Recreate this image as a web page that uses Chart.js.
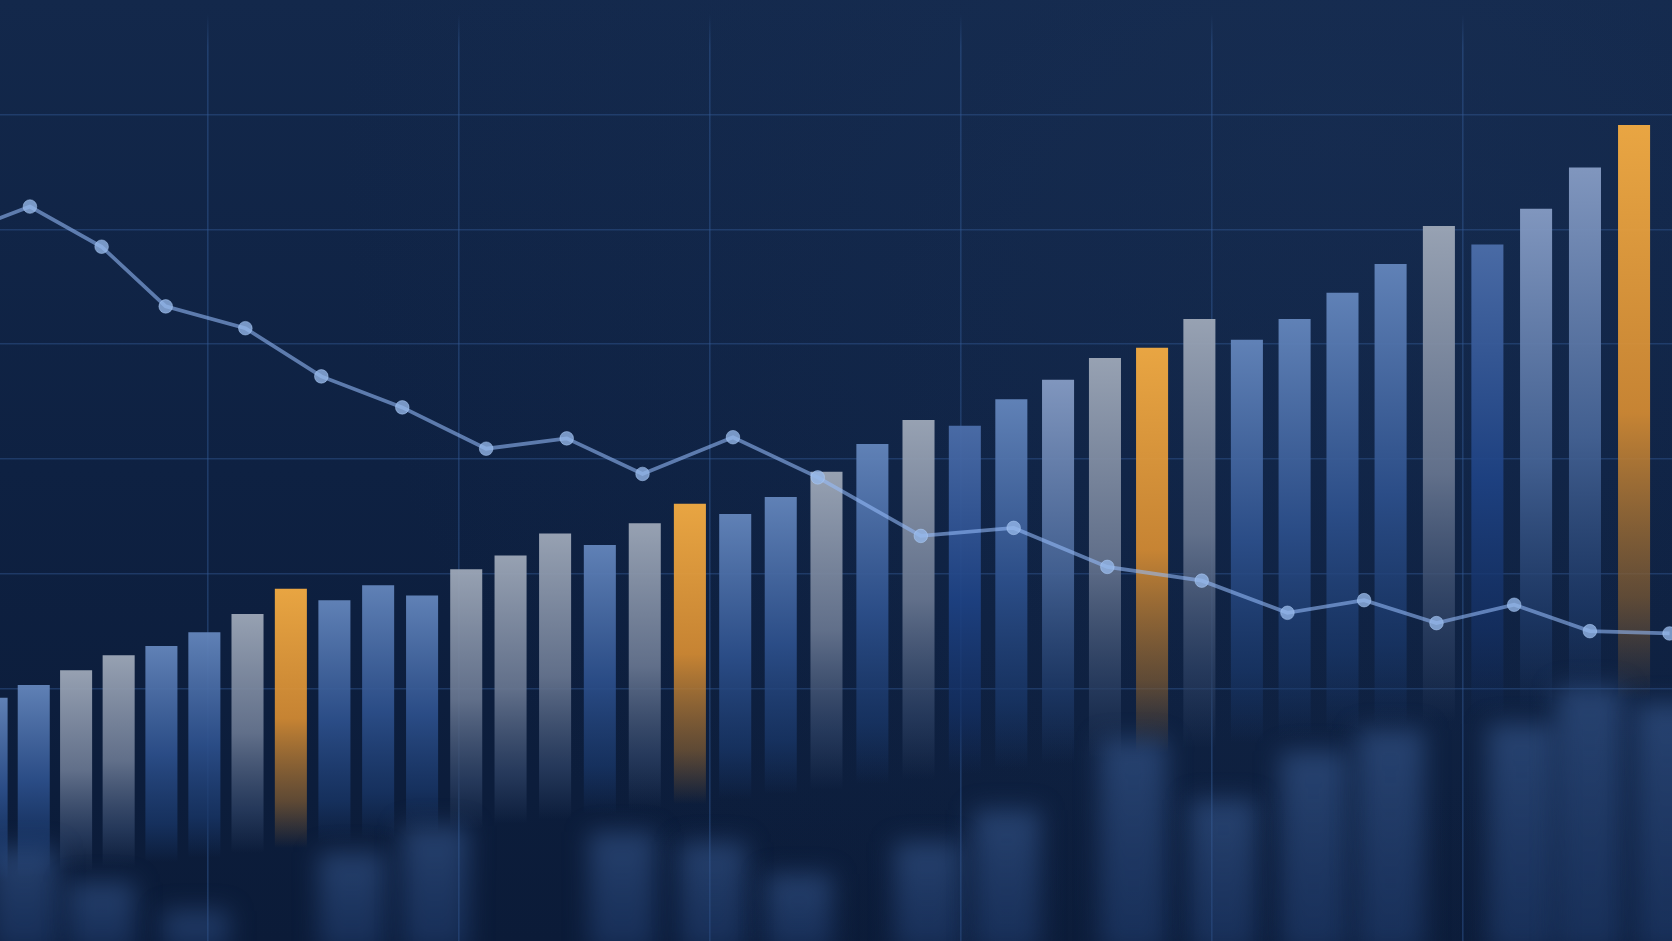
<!DOCTYPE html>
<html>
<head>
<meta charset="utf-8">
<style>
  html, body { margin: 0; padding: 0; background: #0e2142; overflow: hidden; }
  #wrap { position: relative; width: 1672px; height: 941px; }
</style>
<script src="https://cdn.jsdelivr.net/npm/chart.js@4.4.1/dist/chart.umd.min.js"></script>
</head>
<body>
<div id="wrap"><canvas id="c"></canvas></div>
<script>
// ---------- DATA ----------
// main bars: one per period, values in chart units
const barValues = [19.2, 20.3, 21.6, 22.9, 23.7, 24.9, 26.5, 28.7, 27.7, 29.0,
                   28.1, 30.4, 31.6, 33.5, 32.5, 34.4, 36.1, 35.2, 36.7, 38.9,
                   41.3, 43.4, 42.9, 45.2, 46.9, 48.8, 49.7, 52.2, 50.4, 52.2,
                   54.5, 57.0, 60.3, 58.7, 61.8, 65.4, 69.1];
// tone of each bar: b blue, g silver, s steel, d deep blue, o highlight (orange)
const barTone = ['b','b','g','g','b','b','g','o','b','b',
                 'b','g','g','g','b','g','o','b','b','g',
                 'b','g','d','b','s','g','o','g','b','b',
                 'b','b','g','d','s','s','o'];
// trend line: position measured in bar periods, value in chart units
const lineAt = [-1.09, 0.91, 2.60, 4.10, 5.95, 7.70, 9.55, 11.45, 13.26, 14.95, 16.95,
                18.81, 21.05, 23.05, 25.05, 27.05, 28.85, 30.45, 31.95, 33.55, 35.1, 36.72];
const lineValues = [59.2, 62.0, 58.5, 53.3, 51.4, 47.2, 44.5, 40.9, 41.8, 38.7, 41.9,
                    38.4, 33.3, 34.0, 30.6, 29.4, 26.6, 27.7, 25.7, 27.3, 25.0, 24.8];
// out-of-focus foreground bars
const fgAt = [0.78, 2.6, 4.8, 8.4, 10.3, 14.5, 16.5, 18.4, 21.2, 22.9, 25.6, 27.5, 29.4, 31.0, 33.7, 35.1, 36.7];
const fgValues = [6.1, 3.1, 0.6, 5.7, 8.0, 7.5, 6.6, 3.8, 6.6, 9.4, 15.5, 10.3, 14.5, 16.4, 16.9, 20.1, 18.7];
// grid ticks (no labels shown)
const yGridTicks = [20, 30, 40, 50, 60, 70];
const xGridTicks = [0, 1, 2, 3, 4, 5];

// ---------- custom perspective scale ----------
class PerspectiveScale extends Chart.LinearScale {
  getPixelForValue(value) {
    if (value === null || value === undefined) return NaN;
    const t = (value - this._startValue) / this._valueRange;
    const w = this.options.warp || 0;
    return this.getPixelForDecimal(t - w * t * (1 - t));
  }
  getValueForPixel(pixel) {
    const f = this.getDecimalForPixel(pixel);
    const w = this.options.warp || 0;
    const t = w ? (-(1 - w) + Math.sqrt((1 - w) * (1 - w) + 4 * w * f)) / (2 * w) : f;
    return this._startValue + t * this._valueRange;
  }
}
PerspectiveScale.id = 'perspective';
PerspectiveScale.defaults = Object.assign({}, Chart.LinearScale.defaults);
Chart.register(PerspectiveScale);

// ---------- styles ----------
const tones = {
  b: [[100,134,188],[45,80,140],[25,55,105]],
  g: [[158,168,184],[104,118,144],[45,65,100]],
  s: [[134,156,196],[70,100,150],[30,58,105]],
  d: [[76,110,170],[30,66,132],[20,48,100]],
  o: [[244,172,66],[214,140,50],[122,88,50]]
};
const rgba = (c, a) => `rgba(${c[0]},${c[1]},${c[2]},${a})`;

function barFill(ctx) {
  const chart = ctx.chart;
  const area = chart.chartArea;
  if (!area || ctx.type !== 'data') return 'rgba(0,0,0,0)';
  const xs = chart.scales.x, ys = chart.scales.y;
  const px = xs.getPixelForValue(ctx.parsed.x);
  const top = ys.getPixelForValue(ctx.parsed.y);
  const fade = 880 - 0.11 * px;
  const t = tones[barTone[ctx.dataIndex]];
  const g = chart.ctx.createLinearGradient(0, top, 0, fade);
  g.addColorStop(0, rgba(t[0], 0.95));
  g.addColorStop(0.5, rgba(t[1], 0.92));
  g.addColorStop(0.82, rgba(t[2], 0.75));
  g.addColorStop(1, rgba(t[2], 0));
  return g;
}
function fgFill(ctx) {
  const chart = ctx.chart;
  if (!chart.chartArea || ctx.type !== 'data') return 'rgba(0,0,0,0)';
  const ys = chart.scales.y;
  const top = ys.getPixelForValue(ctx.parsed.y);
  const g = chart.ctx.createLinearGradient(0, top, 0, 941);
  g.addColorStop(0, 'rgba(62,98,156,0.52)');
  g.addColorStop(1, 'rgba(40,72,128,0.45)');
  return g;
}
let vGridGrad = null;
function vGridColor(ctx) {
  const chart = ctx.chart;
  if (!vGridGrad) {
    vGridGrad = chart.ctx.createLinearGradient(0, 0, 0, 941);
    vGridGrad.addColorStop(0, 'rgba(50,90,150,0)');
    vGridGrad.addColorStop(0.015, 'rgba(50,90,150,0)');
    vGridGrad.addColorStop(0.05, 'rgba(50,90,150,0.45)');
    vGridGrad.addColorStop(1, 'rgba(50,90,150,0.45)');
  }
  return vGridGrad;
}

const bgPlugin = {
  id: 'bg',
  beforeDraw(chart) {
    const c = chart.ctx;
    const w = chart.width, h = chart.height;
    c.save();
    const g = c.createLinearGradient(0, 0, 0, h);
    g.addColorStop(0, '#13284b');
    g.addColorStop(0.5, '#0e2142');
    g.addColorStop(1, '#0b1b38');
    c.fillStyle = g;
    c.fillRect(0, 0, w, h);
    const r = c.createRadialGradient(w * 0.8, h * 0.15, 10, w * 0.8, h * 0.15, w * 0.6);
    r.addColorStop(0, 'rgba(30,55,95,0.3)');
    r.addColorStop(1, 'rgba(30,55,95,0)');
    c.fillStyle = r;
    c.fillRect(0, 0, w, h);
    c.restore();
  }
};
const blurPlugin = {
  id: 'blurfg',
  beforeDatasetDraw(chart, args) {
    if (args.index === 2) { chart.ctx.save(); chart.ctx.filter = 'blur(12px)'; }
  },
  afterDatasetDraw(chart, args) {
    if (args.index === 2) { chart.ctx.restore(); }
  }
};

const canvas = document.getElementById('c');
canvas.width = 1672; canvas.height = 941;

const perspectiveAxis = () => ({
  type: 'perspective', warp: 0.0792, min: 0.2, max: 36.77,
  offset: false, display: false, grid: { offset: false }
});

new Chart(canvas, {
  data: {
    datasets: [
      {
        type: 'bar',
        label: 'volume',
        data: barValues.map((v, i) => ({ x: i, y: v })),
        backgroundColor: barFill,
        borderWidth: 0,
        categoryPercentage: 0.76,
        barPercentage: 1.0,
        grouped: false,
        xAxisID: 'x', yAxisID: 'y',
        order: 3
      },
      {
        type: 'line',
        label: 'trend',
        data: lineAt.map((x, i) => ({ x: x, y: lineValues[i] })),
        borderColor: 'rgba(150,188,250,0.58)',
        borderWidth: 3.8,
        tension: 0,
        pointRadius: 6.8,
        pointBackgroundColor: 'rgba(150,185,235,0.78)',
        pointBorderColor: 'rgba(175,205,248,0.5)',
        pointBorderWidth: 1,
        xAxisID: 'x', yAxisID: 'y',
        order: 2
      },
      {
        type: 'bar',
        label: 'foreground',
        data: fgAt.map((x, i) => ({ x: x, y: fgValues[i] })),
        backgroundColor: fgFill,
        borderWidth: 0,
        barThickness: 66,
        grouped: false,
        base: -3,
        xAxisID: 'xf', yAxisID: 'y',
        order: 1
      }
    ]
  },
  options: {
    responsive: false,
    animation: false,
    devicePixelRatio: 1,
    layout: { padding: 0, autoPadding: false },
    plugins: { legend: { display: false }, tooltip: { enabled: false } },
    scales: {
      x: perspectiveAxis(),
      xf: perspectiveAxis(),
      xg: {
        type: 'linear', position: 'bottom', min: -0.829, max: 5.833, offset: false,
        afterBuildTicks: s => { s.ticks = xGridTicks.map(v => ({ value: v })); },
        ticks: { display: false },
        grid: { color: vGridColor, lineWidth: 1.6, drawTicks: false },
        border: { display: false }
      },
      y: {
        type: 'linear', min: -2, max: 80,
        afterBuildTicks: s => { s.ticks = yGridTicks.map(v => ({ value: v })); },
        ticks: { display: false },
        grid: { color: 'rgba(50,88,148,0.45)', lineWidth: 1.6, drawTicks: false },
        border: { display: false }
      }
    }
  },
  plugins: [bgPlugin, blurPlugin]
});
</script>
</body>
</html>
